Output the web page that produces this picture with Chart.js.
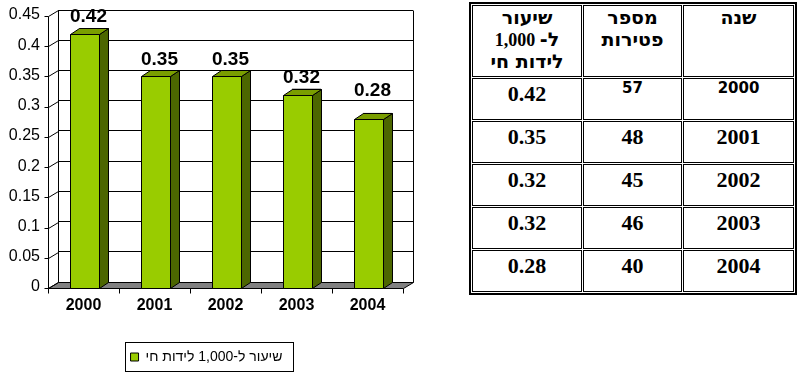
<!DOCTYPE html>
<html>
<head>
<meta charset="utf-8">
<script src="https://cdn.jsdelivr.net/npm/chart.js@4.4.0/dist/chart.umd.min.js"></script>
<style>
  body { margin: 0; background: #fff; width: 800px; height: 382px; overflow: hidden; position: relative; }
  #box { position: absolute; left: 0; top: 0; width: 420px; height: 382px; }
  #tbl { position: absolute; left: 469px; top: 2px; border-collapse: separate; border-spacing: 1px;
         border: 2px solid #000; font-family: "Liberation Serif", serif; color: #000; }
  #tbl td { border: 1px solid #000; text-align: center; vertical-align: top; padding: 2px 0 0 0;
            box-sizing: border-box; height: 42px; font-weight: bold; font-size: 22px; line-height: 26px; }
  #tbl tr.hd td { height: 72px; font-size: 18px; line-height: 22px; padding-top: 1px; }
  #tbl .he { font-family: "DejaVu Sans", sans-serif; font-size: 19px; line-height: 20px; }
  #tbl td.sm { font-family: "DejaVu Sans", sans-serif; font-size: 15px; line-height: 18px; padding-top: 0; }
  #tbl td.c0 { width: 111px; }
  #tbl td.c1 { width: 99px; }
  #tbl td.c2 { width: 110px; }
</style>
</head>
<body>
<div id="box"><canvas id="rateChart"></canvas></div>
<table id="tbl" dir="rtl"></table>
<script>
// chart data
const years = ['2000', '2001', '2002', '2003', '2004'];
const chartRates = [0.42, 0.35, 0.35, 0.32, 0.28];
const yTickLabels = ['0', '0.05', '0.1', '0.15', '0.2', '0.25', '0.3', '0.35', '0.4', '0.45'];
const seriesLabel = 'שיעור ל-1,000 לידות חי';

// table data (header lines, Hebrew words get the Hebrew font)
const tableHeaders = [
  ['<span class="he">שנה</span>'],
  ['<span class="he">מספר</span>', '<span class="he">פטירות</span>'],
  ['<span class="he">שיעור</span>', '<span class="he">ל-</span> 1,000', '<span class="he">לידות חי</span>']
];
const tableDeaths = ['57', '48', '45', '46', '40'];
const tableRates = ['0.42', '0.35', '0.32', '0.32', '0.28'];

// build the table
const tbl = document.getElementById('tbl');
let html = '<tr class="hd">' + tableHeaders.map((h, i) => '<td class="c' + i + '">' + h.join('<br>') + '</td>').join('') + '</tr>';
years.forEach((yr, i) => {
  const sm = i === 0 ? ' sm' : '';
  html += '<tr><td class="c0' + sm + '">' + yr + '</td><td class="c1' + sm + '">' + tableDeaths[i] +
          '</td><td class="c2">' + tableRates[i] + '</td></tr>';
});
tbl.innerHTML = html;

// 3d look
const WALL_DX = 10, WALL_DY = 6, BAR_DX = 9, BAR_DY = 6;
const labelLift = [0, 0, 0, 0, 11];

function seg(ctx, x1, y1, x2, y2) {
  ctx.beginPath(); ctx.moveTo(x1, y1); ctx.lineTo(x2, y2); ctx.stroke();
}
function poly(ctx, pts, fill) {
  ctx.beginPath();
  ctx.moveTo(pts[0][0], pts[0][1]);
  for (let i = 1; i < pts.length; i++) ctx.lineTo(pts[i][0], pts[i][1]);
  ctx.closePath();
  ctx.fillStyle = fill; ctx.fill(); ctx.stroke();
}

const box3d = {
  id: 'box3d',
  beforeDatasetsDraw(chart) {
    const { ctx, chartArea: a, scales: { x, y } } = chart;
    const L = Math.round(a.left) + 0.5, R = Math.round(a.right) + 0.5, B = Math.round(a.bottom) + 0.5;
    ctx.save();
    ctx.strokeStyle = '#000';
    ctx.lineWidth = 1;
    // floor
    poly(ctx, [[L, B], [R, B], [R - WALL_DX, B + WALL_DY], [L - WALL_DX, B + WALL_DY]], '#808080');
    // right edge of back wall
    seg(ctx, R, Math.round(a.top) + 0.5, R, B);
    // side wall
    y.ticks.forEach(t => {
      const py = Math.round(y.getPixelForValue(t.value)) + 0.5;
      seg(ctx, L - WALL_DX, py + WALL_DY, L, py);
      seg(ctx, L - WALL_DX - 4, py + WALL_DY, L - WALL_DX, py + WALL_DY);
    });
    seg(ctx, L - WALL_DX, Math.round(a.top) + 0.5 + WALL_DY, L - WALL_DX, B + WALL_DY);
    // front tick marks
    for (let i = 0; i <= years.length; i++) {
      const px = Math.round(x.getPixelForValue(i - 0.5)) + 0.5 - WALL_DX;
      seg(ctx, px, B + WALL_DY, px, B + WALL_DY + 5);
    }
    ctx.restore();
  },
  afterDatasetsDraw(chart) {
    const { ctx } = chart;
    const meta = chart.getDatasetMeta(0);
    ctx.save();
    ctx.strokeStyle = '#000';
    ctx.lineWidth = 1;
    meta.data.forEach((bar, i) => {
      const p = bar.getProps(['x', 'y', 'base', 'width'], true);
      const l = Math.round(p.x - p.width / 2) + 0.5, r = Math.round(p.x + p.width / 2) + 0.5;
      const t = Math.round(p.y) + 0.5, b = Math.round(p.base) + 0.5;
      // side
      poly(ctx, [[r - BAR_DX, t + BAR_DY], [r, t], [r, b], [r - BAR_DX, b + BAR_DY]], '#4C6600');
      // top
      poly(ctx, [[l - BAR_DX, t + BAR_DY], [l, t], [r, t], [r - BAR_DX, t + BAR_DY]], '#7A9E00');
      // front
      poly(ctx, [[l - BAR_DX, t + BAR_DY], [r - BAR_DX, t + BAR_DY], [r - BAR_DX, b + BAR_DY], [l - BAR_DX, b + BAR_DY]], '#99CC00');
      // value label
      ctx.fillStyle = '#000';
      ctx.font = 'bold 19px "Liberation Sans", Arial, sans-serif';
      ctx.textAlign = 'center';
      ctx.textBaseline = 'middle';
      ctx.fillText(chartRates[i].toFixed(2), p.x - 5, p.y - 11 - labelLift[i]);
    });
    ctx.restore();
  },
  afterDraw(chart) {
    const lg = chart.legend;
    if (!lg || !lg.legendHitBoxes.length) return;
    const hb = lg.legendHitBoxes[0];
    const { ctx } = chart;
    ctx.save();
    ctx.strokeStyle = '#000';
    ctx.lineWidth = 1;
    ctx.strokeRect(Math.round(hb.left - 6) + 0.5, Math.round(hb.top - 8) + 0.5,
                   Math.round(hb.width + 16), Math.round(hb.height + 15));
    ctx.restore();
  }
};

new Chart(document.getElementById('rateChart'), {
  type: 'bar',
  data: {
    labels: years,
    datasets: [{
      label: seriesLabel,
      data: chartRates,
      backgroundColor: '#99CC00',
      borderColor: '#000',
      borderWidth: 1,
      barPercentage: 0.41,
      categoryPercentage: 1
    }]
  },
  options: {
    responsive: true,
    maintainAspectRatio: false,
    animation: false,
    layout: { padding: { top: 10, right: 7, bottom: 8, left: 0 } },
    plugins: {
      tooltip: { enabled: false },
      legend: {
        position: 'bottom',
        labels: {
          color: '#000',
          boxWidth: 8,
          boxHeight: 8,
          padding: 10,
          font: { family: '"Liberation Sans", Arial, sans-serif', size: 14 }
        }
      }
    },
    scales: {
      x: {
        grid: { display: false, drawTicks: false },
        border: { display: false },
        ticks: {
          color: '#000',
          padding: 14,
          labelOffset: -10,
          maxRotation: 0,
          font: { family: '"Liberation Sans", Arial, sans-serif', size: 16, weight: 'bold' }
        },
        afterFit(s) { s.height = 58; }
      },
      y: {
        min: 0,
        max: 0.45,
        grid: { color: '#000', lineWidth: 1, drawTicks: false },
        border: { display: true, color: '#000', width: 1 },
        ticks: {
          stepSize: 0.05,
          color: '#000',
          padding: 18,
          labelOffset: 5,
          font: { family: '"Liberation Sans", Arial, sans-serif', size: 16 },
          callback: (v, i) => yTickLabels[i]
        },
        afterFit(s) { s.width = 58; s.paddingTop = 8; s.paddingBottom = 8; }
      }
    }
  },
  plugins: [box3d]
});
</script>
</body>
</html>
